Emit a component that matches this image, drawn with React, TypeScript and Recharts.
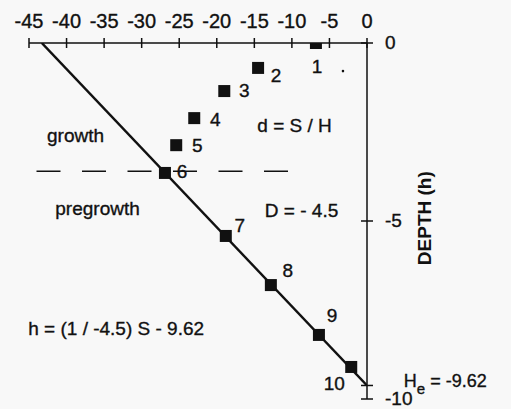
import { ScatterChart, Scatter, XAxis, YAxis, ReferenceLine, ReferenceDot } from "recharts"

const FONT = "'Liberation Sans', Arial, Helvetica, sans-serif"
const INK = "#111"

const xTicks = [-45, -40, -35, -30, -25, -20, -15, -10, -5, 0]
const yTicks = [0, -5, -9.62, -10]
const yTickText = ["0", "-5", "", "-10"]

// numbered sample points (S, h)
const pointNames = ["1", "2", "3", "4", "5", "6", "7", "8", "9", "10"]
const pointS = [-6.8, -14.5, -19.0, -23.0, -25.4, -26.9, -18.8, -12.8, -6.4, -2.1]
const pointH = [0, -0.7, -1.35, -2.11, -2.87, -3.65, -5.42, -6.8, -8.2, -9.1]

// fitted line h = (1/-4.5) S - 9.62, end points
const fitS = [-43.3, 0]
const fitH = [0, -9.62]

// growth / pregrowth boundary
const boundaryH = -3.6
const boundaryS = [-44, -10.5]

// text notes, anchored at start of baseline
const noteText = ["growth", "pregrowth", "d = S / H", "D = - 4.5", "h = (1 / -4.5) S - 9.62"]
const noteS = [-42.6, -41.5, -14.6, -13.6, -45.1]
const noteH = [-2.78, -4.83, -2.5, -4.89, -8.2]

// where each number sits relative to its square (px)
const labelOffsets = [[1, 30], [18, 14], [20, 6], [21, 8], [21, 7], [17, 5], [14, -4], [17, -8], [13, -13], [-17, 23]]

const points = pointNames.map((n, i) => ({ S: pointS[i], h: pointH[i], n, i }))
const fitLine = fitS.map((S, i) => ({ S, h: fitH[i] }))

const textStyle = { fontFamily: FONT, fill: INK, stroke: INK, strokeWidth: 0.35 }

function Square(props: any) {
    const { cx, cy, payload } = props
    const [dx, dy] = labelOffsets[payload.i]
    return (
        <g>
            <rect x={cx - 6} y={cy - 6} width={12} height={12} fill={INK} />
            <text x={cx + dx} y={cy + dy} textAnchor="middle" fontSize={19} {...textStyle}>
                {payload.n}
            </text>
        </g>
    )
}

function XTick({ x, y, payload }: any) {
    return (
        <g>
            <line x1={x} x2={x} y1={y - 5} y2={y + 5} stroke={INK} strokeWidth={1.5} />
            <text x={x} y={y - 15} textAnchor="middle" fontSize={20} {...textStyle}>
                {payload.value}
            </text>
        </g>
    )
}

function YTick({ x, y, index }: any) {
    return (
        <g>
            <line x1={x - 6} x2={x + 6} y1={y} y2={y} stroke={INK} strokeWidth={1.5} />
            <text x={x + 18} y={y + 6} fontSize={19} {...textStyle}>
                {yTickText[index] ?? ""}
            </text>
        </g>
    )
}

const centerOf = (vb: any) => ({ x: vb.x + vb.width / 2, y: vb.y + vb.height / 2 })

const noteLabel = (text: string) => ({ viewBox }: any) => {
    const c = centerOf(viewBox)
    return (
        <text x={c.x} y={c.y} fontSize={19} {...textStyle}>
            {text}
        </text>
    )
}

const heLabel = ({ viewBox }: any) => {
    const c = centerOf(viewBox)
    return (
        <text x={c.x} y={c.y} fontSize={18} {...textStyle}>
            H<tspan dy={7} fontSize={15}>e</tspan>
            <tspan dy={-7}> = -9.62</tspan>
        </text>
    )
}

const depthLabel = ({ viewBox }: any) => {
    const c = centerOf(viewBox)
    return (
        <text
            x={c.x}
            y={c.y}
            transform={`rotate(-90, ${c.x}, ${c.y})`}
            textAnchor="middle"
            dominantBaseline="central"
            fontSize={19}
            fontWeight="bold"
            fontFamily={FONT}
            fill={INK}
        >
            DEPTH (h)
        </text>
    )
}

export default function App() {
    return (
        <div style={{ position: "absolute", left: 0, top: 0, width: 511, height: 409, background: "#f8f8f8" }}>
            <div style={{ position: "absolute", left: 8, top: 8 }}>
                <ScatterChart width={503} height={401} margin={{ top: 5, right: 84, bottom: 10, left: 21 }}>
                    <XAxis
                        type="number"
                        dataKey="S"
                        orientation="top"
                        domain={[-45, 0]}
                        ticks={xTicks}
                        interval={0}
                        allowDataOverflow
                        height={30}
                        tickSize={0}
                        tickMargin={0}
                        tick={<XTick />}
                        axisLine={{ stroke: INK, strokeWidth: 1.5 }}
                    />
                    <YAxis
                        type="number"
                        dataKey="h"
                        orientation="right"
                        domain={[-10, 0]}
                        ticks={yTicks}
                        interval={0}
                        allowDataOverflow
                        width={60}
                        tickSize={0}
                        tickMargin={0}
                        tick={<YTick />}
                        axisLine={{ stroke: INK, strokeWidth: 1.5 }}
                    />
                    <ReferenceLine
                        segment={[{ x: boundaryS[0], y: boundaryH }, { x: boundaryS[1], y: boundaryH }]}
                        stroke={INK}
                        strokeWidth={1.5}
                        strokeDasharray="24 21.5"
                    />
                    <Scatter
                        data={fitLine}
                        line={{ stroke: INK, strokeWidth: 2.5 }}
                        shape={() => <g />}
                        isAnimationActive={false}
                    />
                    <Scatter data={points} shape={<Square />} isAnimationActive={false} />
                    {noteText.map((t, i) => (
                        <ReferenceDot
                            key={t}
                            x={noteS[i]}
                            y={noteH[i]}
                            r={1}
                            fill="none"
                            stroke="none"
                            ifOverflow="visible"
                            label={noteLabel(t)}
                        />
                    ))}
                    <ReferenceDot x={-3.2} y={-0.79} r={1.3} fill={INK} stroke="none" />
                    <ReferenceDot x={4.9} y={-9.66} r={1} fill="none" stroke="none" ifOverflow="visible" label={heLabel} />
                    <ReferenceDot x={7.7} y={-4.92} r={1} fill="none" stroke="none" ifOverflow="visible" label={depthLabel} />
                </ScatterChart>
            </div>
        </div>
    )
}
